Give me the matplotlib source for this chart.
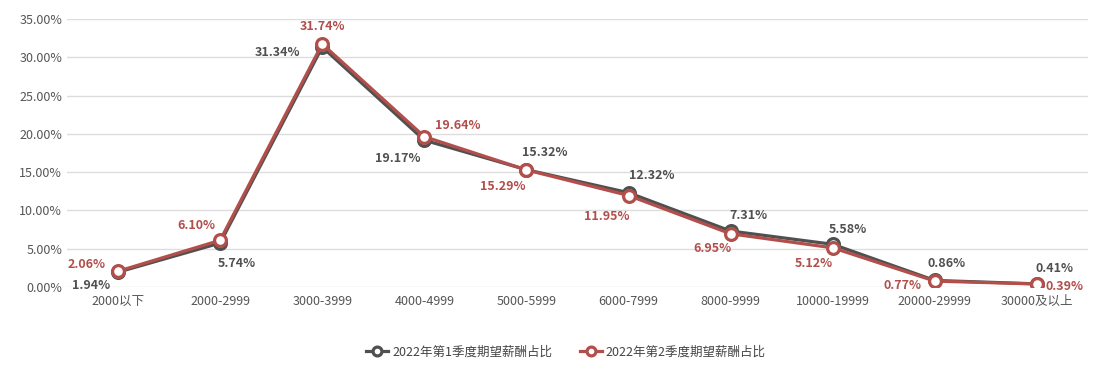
import matplotlib.pyplot as plt
from matplotlib.ticker import FuncFormatter

plt.rcParams['font.family'] = ['Noto Sans CJK SC', 'DejaVu Sans']

categories = ["2000以下", "2000-2999", "3000-3999", "4000-4999", "5000-5999",
              "6000-7999", "8000-9999", "10000-19999", "20000-29999", "30000及以上"]
q1 = [1.94, 5.74, 31.34, 19.17, 15.32, 12.32, 7.31, 5.58, 0.86, 0.41]
q2 = [2.06, 6.10, 31.74, 19.64, 15.29, 11.95, 6.95, 5.12, 0.77, 0.39]
names = ["2022年第1季度期望薪酬占比", "2022年第2季度期望薪酬占比"]

# label offsets in pixels (dx, dy), y up
q1_off = [(-27, -13), (17, -20), (-45, -5), (-27, -18), (18, 17),
          (23, 17), (18, 16), (15, 15), (12, 17), (18, 15)]
q2_off = [(-31, 7), (-24, 15), (0, 17), (33, 11), (-24, -17),
          (-22, -21), (-18, -15), (-19, -16), (-32, -4), (28, -2)]

dark = "#505050"
red = "#b24f4b"

fig = plt.figure(figsize=(11.03, 3.77), dpi=100)
ax = fig.add_axes([0.0607, 0.2387, 0.9257, 0.7109])

x = list(range(len(categories)))
for vals, col, name, offs, z in [(q1, dark, names[0], q1_off, 3), (q2, red, names[1], q2_off, 4)]:
    ax.plot(x, vals, color=col, lw=2.3, marker="o", markersize=8.5,
            markerfacecolor="white", markeredgecolor=col, markeredgewidth=2.3,
            label=name, zorder=z)
    for xi, v, (dx, dy) in zip(x, vals, offs):
        ax.annotate(f"{v:.2f}%", (xi, v), xytext=(dx, dy), textcoords="offset pixels",
                    ha="center", va="center", fontsize=9, fontweight="bold",
                    color=col, zorder=5)

ax.set_xlim(-0.5, 9.5)
ax.set_ylim(0, 35)
ax.set_yticks([0, 5, 10, 15, 20, 25, 30, 35])
ax.yaxis.set_major_formatter(FuncFormatter(lambda v, p: f"{v:.2f}%"))
ax.set_xticks(x)
ax.set_xticklabels(categories)
ax.tick_params(axis="both", length=0, labelsize=9, colors="#555555")
ax.tick_params(axis="x", pad=6)
ax.grid(axis="y", color="#dddddd", lw=1)
ax.set_axisbelow(True)
for s in ax.spines.values():
    s.set_visible(False)

leg = fig.legend(loc="center", bbox_to_anchor=(0.513, 0.066), ncol=2, frameon=False,
                 fontsize=9, handlelength=1.8, handletextpad=0.3, columnspacing=2.2,
                 markerscale=0.75)
for t in leg.get_texts():
    t.set_color("#444444")

fig.savefig("out.png", dpi=100)
